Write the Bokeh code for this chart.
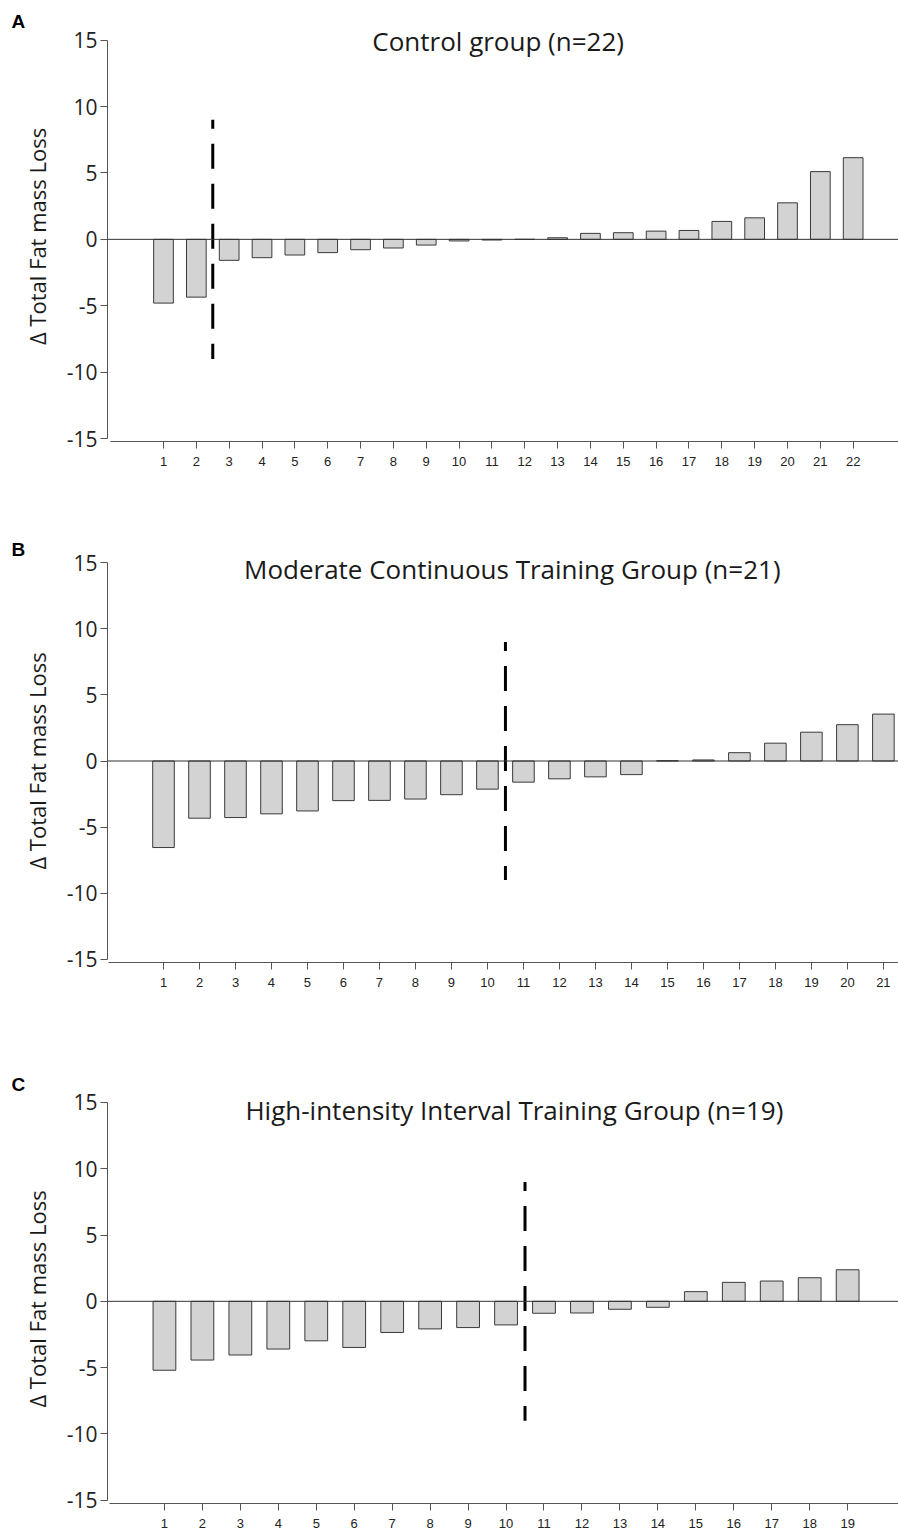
from bokeh.plotting import figure
from bokeh.layouts import column
from bokeh.models import Span, Label, FixedTicker, Range1d, ColumnDataSource, Title, Spacer
from bokeh.embed import file_html
from bokeh.resources import INLINE

# ---------------- data ----------------
ctrl_ids = list(range(1, 23))
ctrl_vals = [-4.8, -4.35, -1.58, -1.38, -1.18, -1.0, -0.78, -0.65, -0.43, -0.12, -0.05,
             0.0, 0.12, 0.45, 0.5, 0.62, 0.67, 1.35, 1.62, 2.75, 5.1, 6.15]
mct_ids = list(range(1, 22))
mct_vals = [-6.55, -4.33, -4.28, -4.0, -3.78, -3.0, -2.98, -2.88, -2.55, -2.13, -1.6,
            -1.35, -1.2, -1.03, 0.02, 0.08, 0.63, 1.35, 2.18, 2.75, 3.55]
hiit_ids = list(range(1, 20))
hiit_vals = [-5.2, -4.43, -4.05, -3.6, -2.98, -3.48, -2.35, -2.08, -1.98, -1.78,
             -0.9, -0.88, -0.6, -0.45, 0.73, 1.43, 1.53, 1.78, 2.38]

titles = ["Control group (n=22)",
          "Moderate Continuous Training Group (n=21)",
          "High-intensity Interval Training Group (n=19)"]
letters = ["A", "B", "C"]
cut_positions = [2.5, 10.5, 10.5]
cut_extent = 9
y_ticks = [-15, -10, -5, 0, 5, 10, 15]
y_tick_labels = ["-15", "-10", "-5", "0", "5", "10", "15"]
y_label = "\u0394 Total Fat mass Loss"

# ---------------- layout config ----------------
layout = [
    dict(h=528, bb=95, xr=(-0.705, 23.38), xb=-0.61, yr=(-15.22, 15.65),
         title_xy=(11.19, 14.9)),
    dict(h=535, bb=109, xr=(-0.556, 21.42), xb=-0.53, yr=(-15.25, 15.25),
         title_xy=(10.69, 14.5)),
    dict(h=463, bb=31, xr=(-0.5, 20.34), xb=-0.45, yr=(-15.25, 15.6),
         title_xy=(10.22, 14.4)),
]

series = [(ctrl_ids, ctrl_vals), (mct_ids, mct_vals), (hiit_ids, hiit_vals)]

AXIS_COLOR = "#555555"
figs = [Spacer(height=8, width=898)]
for i, ((ids, vals), cfg) in enumerate(zip(series, layout)):
    p = figure(width=898, height=cfg["h"], output_backend="svg", toolbar_location=None,
               title=None, x_range=Range1d(*cfg["xr"]), y_range=Range1d(*cfg["yr"]),
               min_border_left=107, min_border_right=0, min_border_top=0,
               min_border_bottom=cfg["bb"])
    p.outline_line_color = None
    p.xgrid.visible = False
    p.ygrid.visible = False
    p.background_fill_color = "white"

    p.add_layout(Title(text=letters[i], align="left", offset=-96, standoff=0,
                       text_font="Liberation Sans", text_font_style="bold",
                       text_font_size="19px", text_color="black"), "above")

    src = ColumnDataSource(dict(x=ids, top=vals))
    p.vbar(x="x", top="top", bottom=0, width=0.6, source=src,
           fill_color="#d3d3d3", line_color="#3a3a3a", line_width=1)

    p.add_layout(Span(location=0, dimension="width", line_color="#333333", line_width=1))

    c = cut_positions[i]
    p.line([c, c], [cut_extent, -cut_extent], line_color="black", line_width=3,
           line_dash="25 15", line_dash_offset=16, line_cap="butt")

    # y axis
    ya = p.yaxis[0]
    ya.ticker = FixedTicker(ticks=y_ticks)
    ya.major_label_overrides = {t: s for t, s in zip(y_ticks, y_tick_labels)}
    ya.bounds = (-15, 15)
    ya.axis_line_color = AXIS_COLOR
    ya.major_tick_line_color = AXIS_COLOR
    ya.major_tick_out = 7
    ya.major_tick_in = 0
    ya.minor_tick_line_color = None
    ya.major_label_text_font = "Open Sans"
    ya.major_label_text_font_size = "21px"
    ya.major_label_text_color = "#222222"
    ya.major_label_standoff = 3
    ya.axis_label = y_label
    ya.axis_label_text_font = "Open Sans"
    ya.axis_label_text_font_style = "normal"
    ya.axis_label_text_font_size = "22px"
    ya.axis_label_text_color = "#1a1a1a"
    ya.axis_label_standoff = 12

    # x axis
    xa = p.xaxis[0]
    xa.ticker = FixedTicker(ticks=ids)
    xa.bounds = (cfg["xb"], cfg["xr"][1])
    xa.axis_line_color = AXIS_COLOR
    xa.major_tick_line_color = AXIS_COLOR
    xa.major_tick_out = 7
    xa.major_tick_in = 0
    xa.minor_tick_line_color = None
    xa.major_label_text_font = "Liberation Sans"
    xa.major_label_text_font_size = "13px"
    xa.major_label_text_color = "#222222"
    xa.major_label_standoff = 8

    tx, ty = cfg["title_xy"]
    p.add_layout(Label(x=tx, y=ty, text=titles[i], text_font="Open Sans",
                       text_font_size="26px", text_color="#1a1a1a",
                       text_align="center", text_baseline="middle"))
    figs.append(p)

layout_obj = column(*figs, spacing=0)
open("out.html", "w").write(file_html(layout_obj, INLINE))
